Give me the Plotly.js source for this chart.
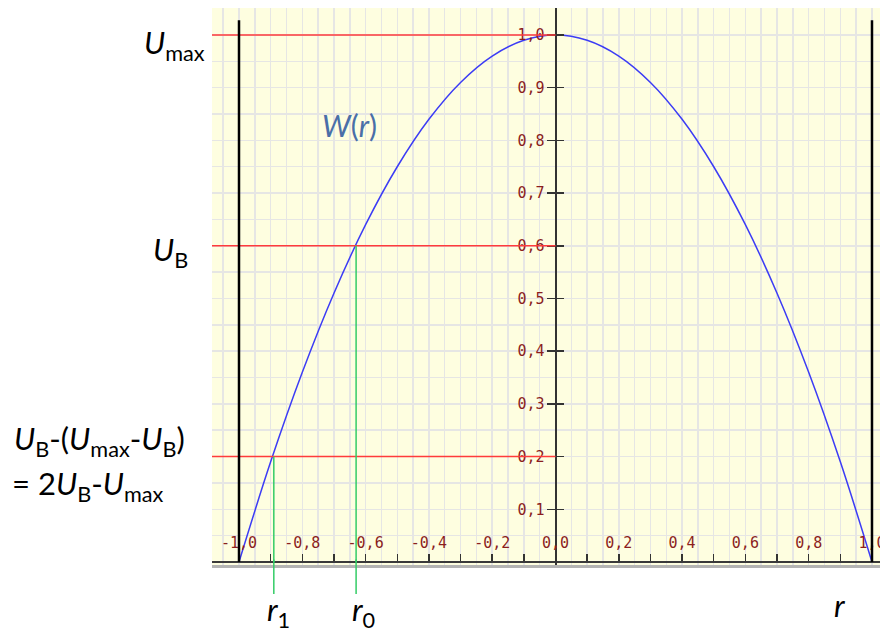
<!DOCTYPE html>
<html>
<head>
<meta charset="utf-8">
<script src="https://cdn.plot.ly/plotly-3.0.1.min.js"></script>
<style>
  html, body { margin: 0; padding: 0; background: #ffffff; }
  #chart { width: 880px; height: 633px; }
</style>
</head>
<body>
<div id="chart"></div>
<script>
// Potential W(r), sampled every 0.1 in r
const rValues = [-1.0, -0.9, -0.8, -0.7, -0.6, -0.5, -0.4, -0.3, -0.2, -0.1, 0.0,
                 0.1, 0.2, 0.3, 0.4, 0.5, 0.6, 0.7, 0.8, 0.9, 1.0];
const wValues = [0.00, 0.19, 0.36, 0.51, 0.64, 0.75, 0.84, 0.91, 0.96, 0.99, 1.00,
                 0.99, 0.96, 0.91, 0.84, 0.75, 0.64, 0.51, 0.36, 0.19, 0.00];

// Energy levels: U_max, U_B, 2U_B - U_max
const levelValues = [1.0, 0.6, 0.2];
// Turning points r1 (at 2U_B - U_max) and r0 (at U_B)
const turnR = [-0.89, -0.63];
const turnLevel = [0.2, 0.6];
// Walls of the box
const wallR = [-1, 1];

// Axis ticks
const xTickVals = [-1.0, -0.9, -0.8, -0.7, -0.6, -0.5, -0.4, -0.3, -0.2, -0.1, 0.0,
                   0.1, 0.2, 0.3, 0.4, 0.5, 0.6, 0.7, 0.8, 0.9, 1.0];
const xTickText = ["-1,0", "", "-0,8", "", "-0,6", "", "-0,4", "", "-0,2", "", "0,0",
                   "", "0,2", "", "0,4", "", "0,6", "", "0,8", "", "1,0"];
const yTickVals = [0.1, 0.2, 0.3, 0.4, 0.5, 0.6, 0.7, 0.8, 0.9, 1.0];
const yTickText = ["0,1", "0,2", "0,3", "0,4", "0,5", "0,6", "0,7", "0,8", "0,9", "1,0"];

const xRange = [-1.0853, 1.0253];
const yRange = [-0.0057, 1.0512];

const tickFont = { family: "DejaVu Sans Mono", size: 15, color: "#8b1e1e" };
const textFont = { family: "Lato", size: 31, color: "#000000" };

const traces = [{
  x: rValues,
  y: wValues,
  type: "scatter",
  mode: "lines",
  line: { color: "#3c3cf5", width: 1.5, shape: "spline", smoothing: 1 },
  hoverinfo: "skip"
}];

const shapes = [];
levelValues.forEach(function (u) {
  shapes.push({
    type: "line", xref: "x", yref: "y",
    x0: xRange[0] - 0.05, x1: 0, y0: u, y1: u,
    line: { color: "#ff3b3b", width: 1.5 }
  });
});
wallR.forEach(function (r) {
  shapes.push({
    type: "line", xref: "x", yref: "y",
    x0: r, x1: r, y0: 0, y1: 1.028,
    line: { color: "#000000", width: 2.5 }
  });
});
turnR.forEach(function (r, i) {
  shapes.push({
    type: "line", xref: "x", yref: "y",
    x0: r, x1: r, y0: 0, y1: turnLevel[i],
    line: { color: "#33cc66", width: 1.5 }
  });
  shapes.push({
    type: "line", xref: "x", yref: "paper",
    x0: r, x1: r, y0: -0.052, y1: 0.01,
    line: { color: "#33cc66", width: 1.5 }
  });
});

const annotations = [
  { text: "<i>U</i><sub>max</sub>", x: -0.0075, y: 0.934, xanchor: "right", yanchor: "middle" },
  { text: "<i>U</i><sub>B</sub>", x: -0.033, y: 0.562, xanchor: "right", yanchor: "middle" },
  { text: "<i>U</i><sub>B</sub>-(<i>U</i><sub>max</sub>-<i>U</i><sub>B</sub>)", x: -0.2994, y: 0.224, xanchor: "left", yanchor: "middle" },
  { text: "= 2<i>U</i><sub>B</sub>-<i>U</i><sub>max</sub>", x: -0.3024, y: 0.1436, xanchor: "left", yanchor: "middle" },
  { text: "<i>W</i>(<i>r</i>)", x: 0.1617, y: 0.79, xanchor: "left", yanchor: "middle",
    font: { family: "Lato", size: 30, color: "#4a6fa8" } },
  { text: "<i>r</i><sub>1</sub>", x: 0.0793, y: -0.084, xanchor: "left", yanchor: "middle" },
  { text: "<i>r</i><sub>0</sub>", x: 0.2066, y: -0.084, xanchor: "left", yanchor: "middle" },
  { text: "<i>r</i>", x: 0.928, y: -0.072, xanchor: "left", yanchor: "middle" }
].map(function (a) {
  return Object.assign({ xref: "paper", yref: "paper", showarrow: false, font: textFont }, a);
});

const yAxisPos = (0 - xRange[0]) / (xRange[1] - xRange[0]);

const layout = {
  width: 880,
  height: 633,
  margin: { l: 212, r: 0, t: 8, b: 68, pad: 0 },
  paper_bgcolor: "#ffffff",
  plot_bgcolor: "#fefee0",
  showlegend: false,
  xaxis: {
    range: xRange, tick0: 0, dtick: 0.05,
    showgrid: true, gridcolor: "#e6e6e4", gridwidth: 1.5,
    zeroline: false, showticklabels: false, ticks: "",
    showline: true, linecolor: "#b4b4b4", linewidth: 3, mirror: false
  },
  yaxis: {
    range: yRange, tick0: 0, dtick: 0.05,
    showgrid: true, gridcolor: "#e6e6e4", gridwidth: 1.5,
    zeroline: false, showticklabels: false, ticks: ""
  },
  // horizontal axis through y = 0, labels above the line
  xaxis2: {
    overlaying: "x", anchor: "free", position: 0.0054, side: "top",
    range: xRange, tickmode: "array", tickvals: xTickVals, ticktext: xTickText,
    ticks: "outside", ticklen: 7, tickwidth: 1.5, tickcolor: "#333333",
    tickfont: tickFont, ticklabeloverflow: "allow", showgrid: false, zeroline: false,
    showline: true, linecolor: "#3a3a3a", linewidth: 2.5
  },
  // vertical axis through r = 0, ticks crossing the line
  yaxis2: {
    overlaying: "y", anchor: "free", position: yAxisPos, side: "left",
    range: yRange, tickmode: "array", tickvals: yTickVals, ticktext: yTickText,
    ticks: "outside", ticklen: 8, tickwidth: 1.5, tickcolor: "#333333",
    tickfont: tickFont, showgrid: false, zeroline: false,
    showline: true, linecolor: "#333333", linewidth: 1.5
  },
  yaxis3: {
    overlaying: "y", anchor: "free", position: yAxisPos, side: "right",
    range: yRange, tickmode: "array", tickvals: yTickVals, ticktext: yTickText,
    ticks: "outside", ticklen: 8, tickwidth: 1.5, tickcolor: "#333333",
    showticklabels: false, showgrid: false, zeroline: false, showline: false
  },
  shapes: shapes,
  annotations: annotations
};

// invisible traces bind the overlay axes
const axisTraces = [
  { x: [0], y: [0], xaxis: "x2", yaxis: "y2", type: "scatter", mode: "none", hoverinfo: "skip" },
  { x: [0], y: [0], xaxis: "x", yaxis: "y3", type: "scatter", mode: "none", hoverinfo: "skip" }
];

Plotly.newPlot("chart", traces.concat(axisTraces), layout, { staticPlot: true, displayModeBar: false });
</script>
</body>
</html>
